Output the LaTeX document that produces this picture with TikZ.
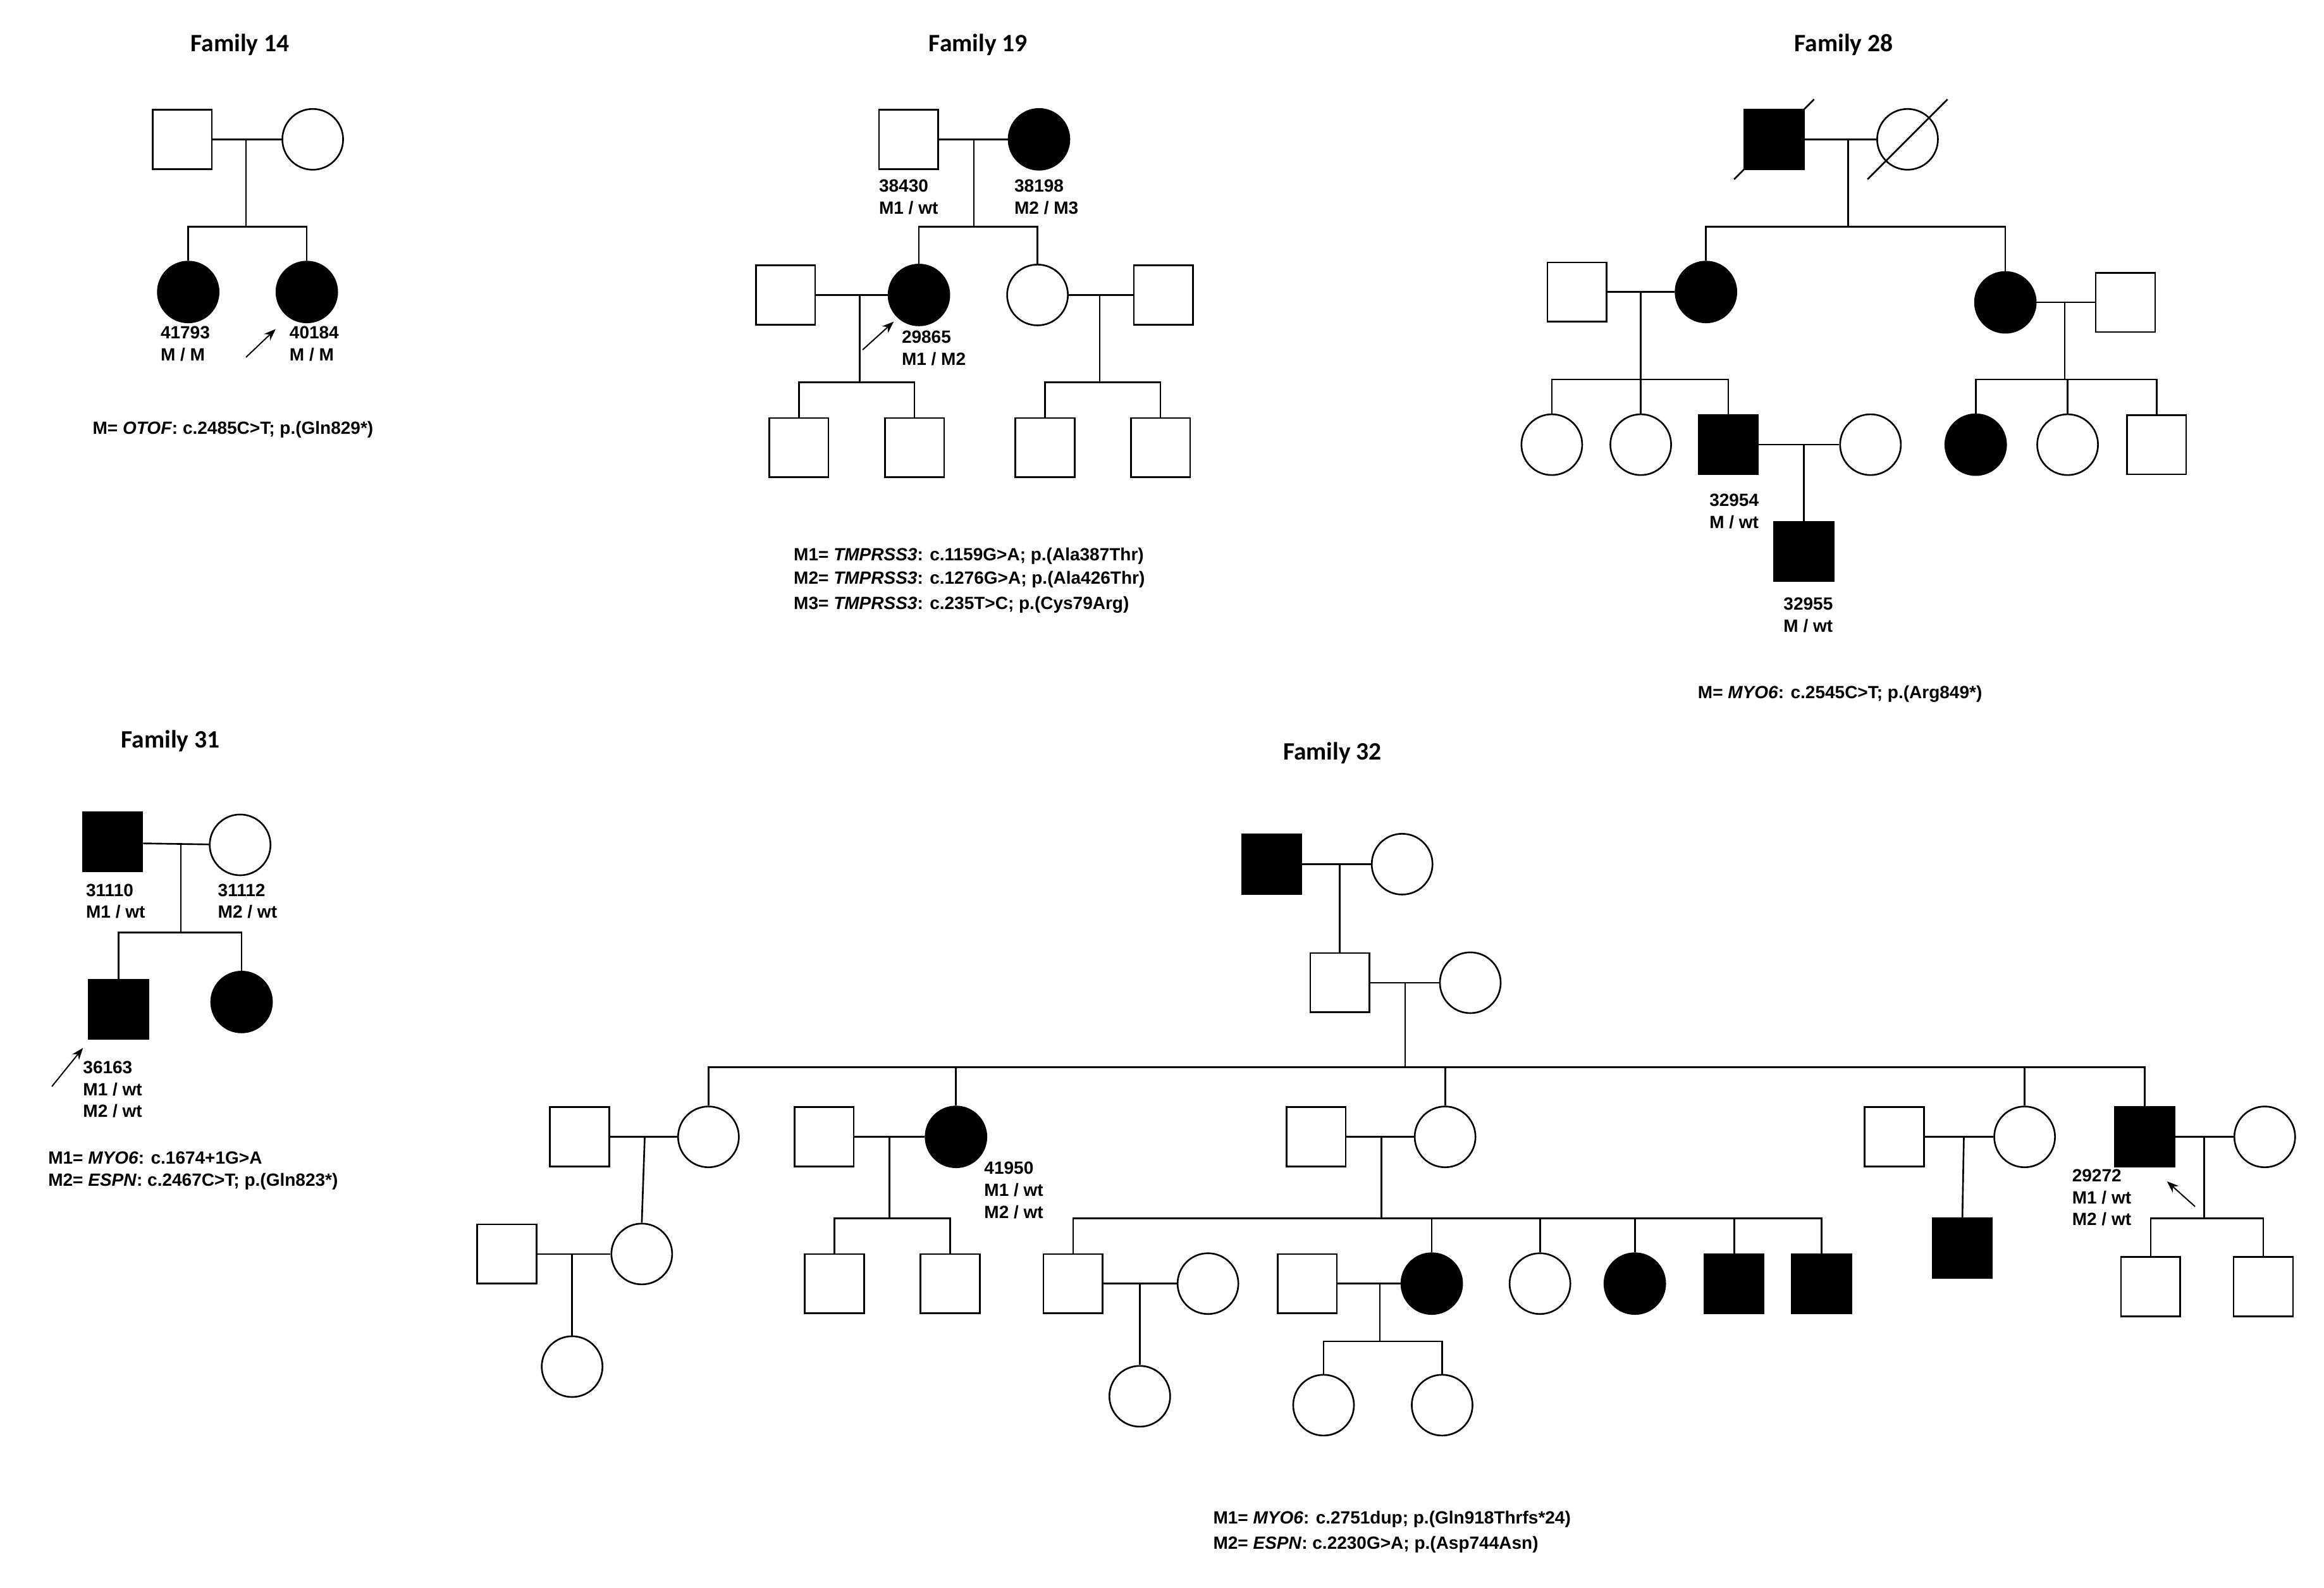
\documentclass[tikz,border=0pt]{standalone}
\usepackage{fontspec}
\setmainfont{Liberation Sans}
\newfontfamily\titlefont{Carlito}
\usetikzlibrary{arrows.meta}
\begin{document}
\begin{tikzpicture}[x=0.5mm,y=-0.5mm,line width=1.6pt,
 m/.style={draw,rectangle,minimum size=20mm,inner sep=0pt},
 f/.style={draw,circle,minimum size=20.5mm,inner sep=0pt},
 aff/.style={fill=black},
 lab/.style={font=\fontsize{17}{21}\selectfont\bfseries,align=left,inner sep=0pt},
 foot/.style={font=\fontsize{17}{21}\selectfont\bfseries,align=left,inner sep=0pt,anchor=west},
 ttl/.style={font=\titlefont\fontsize{24}{28}\selectfont\bfseries},
 pro/.style={-{Stealth[length=4mm,width=3mm]},line width=1.2pt}]
\useasboundingbox (0,0) rectangle (1568,1071);
% ---------- Family 14
\node[ttl] (t14) at (162,30) {Family 14};
\node[m] (a1) at (123,94) {}; \node[f] (a2) at (211,94) {};
\draw (a1) -- (a2);
\coordinate (a12) at (166,94); \coordinate (as) at (166,153);
\node[f,aff] (a3) at (127,197) {}; \node[f,aff] (a4) at (207,197) {};
\draw (a12) -- (as); \draw (a3.north) |- (as) -| (a4.north);
\node[lab] (la3) at (125,232) {41793\\M / M};
\node[lab] (la4) at (212,232) {40184\\M / M};
\coordinate (ar14) at (166,241); \draw[pro] (ar14) -- (186,222);
\node[foot] (f14) at (62,290) {M= \textit{OTOF}: c.2485C>T; p.(Gln829*)};
% ---------- Family 19
\node[ttl] (t19) at (660,30) {Family 19};
\node[m] (b1) at (613,94) {}; \node[f,aff] (b2) at (701,94) {};
\draw (b1) -- (b2);
\coordinate (b12) at (657,94); \coordinate (bs) at (657,153);
\draw (b12) -- (bs);
\node[lab] at (613,133) {38430\\M1 / wt};
\node[lab] at (706,133) {38198\\M2 / M3};
\node[f,aff] (b3) at (620,199) {}; \node[f] (b4) at (700,199) {};
\draw (b3.north) |- (bs) -| (b4.north);
\node[m] (b5) at (530,199) {}; \node[m] (b6) at (785,199) {};
\draw (b5) -- (b3); \draw (b4) -- (b6);
\node[m] (b7) at (539,302) {}; \node[m] (b8) at (617,302) {};
\node[m] (b9) at (705,302) {}; \node[m] (b10) at (783,302) {};
\coordinate (bm1) at (580,199); \coordinate (bs1) at (580,258);
\coordinate (bm2) at (742,199); \coordinate (bs2) at (742,258);
\draw (bm1) -- (bs1); \draw (b7.north) |- (bs1) -| (b8.north);
\draw (bm2) -- (bs2); \draw (b9.north) |- (bs2) -| (b10.north);
\node[lab] at (630,235) {29865\\M1 / M2};
\coordinate (ar19) at (582,236); \draw[pro] (ar19) -- (603,217);
\node[foot] at (535,375) {M1= \textit{TMPRSS3}: c.1159G>A; p.(Ala387Thr)};
\node[foot] at (535,391) {M2= \textit{TMPRSS3}: c.1276G>A; p.(Ala426Thr)};
\node[foot] at (535,408) {M3= \textit{TMPRSS3}: c.235T>C; p.(Cys79Arg)};
% ---------- Family 28
\node[ttl] at (1244,30) {Family 28};
\node[m,aff] (c1) at (1197,94) {}; \node[f] (c2) at (1287,94) {};
\draw (c1) -- (c2);
\draw (c1.center) ++(-27,27) -- ++(54,-54);
\draw (c2.center) ++(-27,27) -- ++(54,-54);
\coordinate (c12) at (1247,94); \coordinate (cs) at (1247,153);
\draw (c12) -- (cs);
\node[f,aff] (c3) at (1151,197) {}; \node[f,aff] (c4) at (1353,204) {};
\draw (c3.north) |- (cs) -| (c4.north);
\node[m] (c5) at (1064,197) {}; \node[m] (c6) at (1434,204) {};
\draw (c5) -- (c3); \draw (c4) -- (c6);
\coordinate (cm1) at (1107,197); \coordinate (cs1) at (1107,256);
\draw (cm1) -- (cs1);
\node[f] (c7) at (1047,300) {}; \node[f] (c8) at (1107,300) {}; \node[m,aff] (c9) at (1166,300) {};
\draw (c7.north) |- (cs1) -| (c9.north); \draw (c8.north) -- (cs1);
\node[f] (c10) at (1262,300) {}; \draw (c9) -- (c10);
\coordinate (cm2) at (1217,300);
\node[m,aff] (c11) at (1217,372) {}; \draw (cm2) -- (c11.north);
\node[lab] at (1170,345) {32954\\M / wt};
\node[lab] at (1220,415) {32955\\M / wt};
\coordinate (cm3) at (1393,204); \coordinate (cs3) at (1393,256);
\draw (cm3) -- (cs3);
\node[f,aff] (c12) at (1333,300) {}; \node[f] (c13) at (1395,300) {}; \node[m] (c14) at (1455,300) {};
\draw (c12.north) |- (cs3) -| (c14.north); \draw (c13.north) -- (c13.north |- cs3);
\node[foot] at (1145,468) {M= \textit{MYO6}: c.2545C>T; p.(Arg849*)};
% ---------- Family 31
\node[ttl] at (115,500) {Family 31};
\node[m,aff] (d1) at (76,568) {}; \node[f] (d2) at (162,570) {};
\draw (d1.east |- 122,569) -- (d2);
\coordinate (d12) at (122,569); \coordinate (ds) at (122,629);
\draw (d12) -- (ds);
\node[m,aff] (d3) at (80,681) {}; \node[f,aff] (d4) at (163,676) {};
\draw (d3.north) |- (ds) -| (d4.north);
\node[lab] at (78,608) {31110\\M1 / wt};
\node[lab] at (167,608) {31112\\M2 / wt};
\node[lab] at (76,735) {36163\\M1 / wt\\M2 / wt};
\coordinate (ar31) at (35,733); \draw[pro] (ar31) -- (56,707);
\node[foot] at (32,781) {M1= \textit{MYO6}: c.1674+1G>A};
\node[foot] at (32,797) {M2= \textit{ESPN}: c.2467C>T; p.(Gln823*)};
% ---------- Family 32
\node[ttl] at (899,508) {Family 32};
\node[m,aff] (e1) at (858,583) {}; \node[f] (e2) at (946,583) {};
\draw (e1) -- (e2);
\node[m] (e3) at (904,663) {}; \node[f] (e4) at (992,663) {};
\draw (e3) -- (e4);
\coordinate (e12) at (904,583); \draw (e12) -- (e3.north);
\coordinate (e34) at (948,663); \coordinate (es) at (948,720);
\draw (e34) -- (es);
\node[f] (g1) at (478,767) {}; \node[m] (g1s) at (391,767) {};
\node[f,aff] (g2) at (645,767) {}; \node[m] (g2s) at (556,767) {};
\node[f] (g3) at (975,767) {}; \node[m] (g3s) at (888,767) {};
\node[f] (g4) at (1366,767) {}; \node[m] (g4s) at (1278,767) {};
\node[m,aff] (g5) at (1447,767) {}; \node[f] (g5s) at (1528,767) {};
\draw (g1.north) |- (es) -| (g5.north);
\foreach \n in {g2,g3,g4} \draw (\n.north) -- (\n.north |- es);
\draw (g1s) -- (g1); \draw (g2s) -- (g2); \draw (g3s) -- (g3); \draw (g4s) -- (g4); \draw (g5) -- (g5s);
% branch 1
\node[f] (h1) at (433,846) {}; \node[m] (h1s) at (342,846) {};
\coordinate (g1m) at (435,767); \draw (g1m) -- (h1.north);
\draw (h1s) -- (h1);
\node[f] (i1) at (386,922) {}; \coordinate (h1m) at (386,846); \draw (h1m) -- (i1.north);
% branch 2
\coordinate (g2m) at (600,767); \coordinate (g2t) at (600,822); \draw (g2m) -- (g2t);
\node[m] (h2) at (563,866) {}; \node[m] (h3) at (641,866) {};
\draw (h2.north) |- (g2t) -| (h3.north);
\node[lab] at (684,803) {41950\\M1 / wt\\M2 / wt};
% branch 3
\coordinate (g3m) at (932,767); \coordinate (g3t) at (932,822); \draw (g3m) -- (g3t);
\node[m] (k1) at (724,866) {}; \node[f] (k1s) at (815,866) {};
\node[f,aff] (k2) at (966,866) {}; \node[m] (k2s) at (882,866) {};
\node[f] (k3) at (1039,866) {}; \node[f,aff] (k4) at (1103,866) {};
\node[m,aff] (k5) at (1170,866) {}; \node[m,aff] (k6) at (1229,866) {};
\draw (k1.north) |- (g3t) -| (k6.north);
\foreach \n in {k2,k3,k4,k5} \draw (\n.north) -- (\n.north |- g3t);
\draw (k1) -- (k1s); \draw (k2s) -- (k2);
\node[f] (l1) at (769,942) {}; \coordinate (k1m) at (769,866); \draw (k1m) -- (l1.north);
\coordinate (k2m) at (931,866); \coordinate (k2t) at (931,905); \draw (k2m) -- (k2t);
\node[f] (l2) at (893,948) {}; \node[f] (l3) at (973,948) {};
\draw (l2.north) |- (k2t) -| (l3.north);
% branch 4
\node[m,aff] (h4) at (1324,842) {}; \coordinate (g4m) at (1325,767); \draw (g4m) -- (h4.north);
% branch 5
\coordinate (g5m) at (1487,767); \coordinate (g5t) at (1487,822); \draw (g5m) -- (g5t);
\node[m] (h5) at (1451,868) {}; \node[m] (h6) at (1527,868) {};
\draw (h5.north) |- (g5t) -| (h6.north);
\node[lab] at (1418,808) {29272\\M1 / wt\\M2 / wt};
\coordinate (ar32) at (1481,814); \draw[pro] (ar32) -- (1462,797);
\node[foot] at (818,1025) {M1= \textit{MYO6}: c.2751dup; p.(Gln918Thrfs*24)};
\node[foot] at (818,1042) {M2= \textit{ESPN}: c.2230G>A; p.(Asp744Asn)};
\end{tikzpicture}
\end{document}
